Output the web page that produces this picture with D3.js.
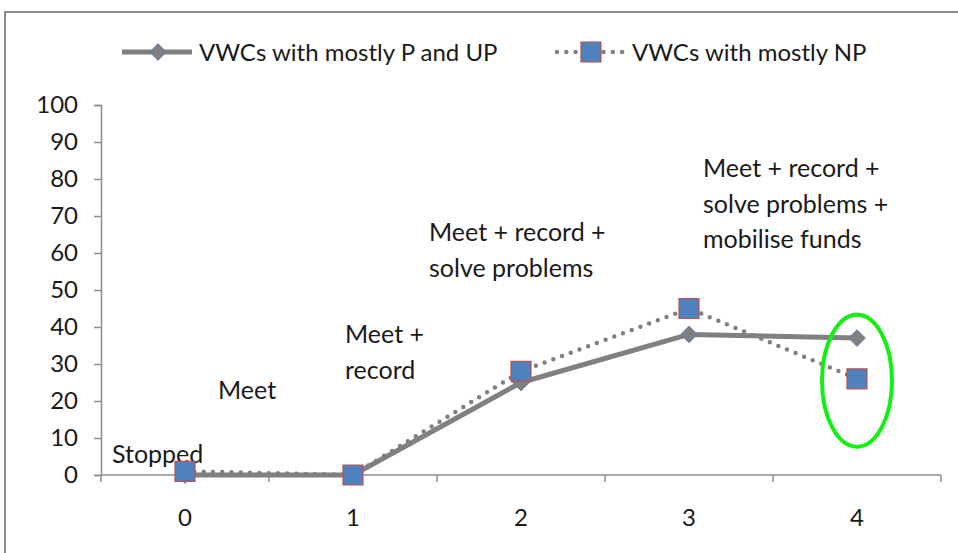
<!DOCTYPE html>
<html lang="en">
<head>
  <meta charset="UTF-8">
  <title>vwc stages</title>
  <script src="https://d3js.org/d3.v7.min.js"></script>
  <style>
    body {
      margin: 0;
      padding: 0;
      background: #fff;
    }
    #chart {
      width: 958px;
      height: 553px;
    }
    text {
      font-family: Lato, "Open Sans", sans-serif;
      fill: #1a1a1a;
    }
  </style>
</head>
<body>
  <div id="chart"></div>
<script>
  // data
  const categories = [0, 1, 2, 3, 4]
  const seriesNames = ['VWCs with mostly P and UP', 'VWCs with mostly NP']
  const valuesPUP = [0, 0, 25, 38, 37]
  const valuesNP = [1, 0, 28, 45, 26]
  const yTicks = [0, 10, 20, 30, 40, 50, 60, 70, 80, 90, 100]
  const notes = [
    ['Stopped'],
    ['Meet'],
    ['Meet +', 'record'],
    ['Meet + record +', 'solve problems'],
    ['Meet + record +', 'solve problems +', 'mobilise funds']
  ]

  const width = 958
  const height = 553
  const plot = { left: 101, right: 941, top: 105, bottom: 475 }

  const svg = d3.select('#chart')
    .append('svg')
    .attr('width', width)
    .attr('height', height)

  // outer frame (only top and left are in view)
  svg.append('path')
    .attr('d', `M5,${height} L5,12 L${width},12`)
    .attr('fill', 'none')
    .attr('stroke', '#8a8a8a')
    .attr('stroke-width', 2)

  const x = d3.scaleBand()
    .domain(categories)
    .range([plot.left, plot.right])
    .padding(0)
  const cx = d => x(d) + x.bandwidth() / 2

  const y = d3.scaleLinear()
    .domain([0, 100])
    .range([plot.bottom, plot.top])

  // y axis
  const yAxis = svg.append('g')
    .attr('transform', `translate(${plot.left},0)`)
    .call(d3.axisLeft(y).tickValues(yTicks).tickSize(7).tickPadding(16))
  yAxis.select('.domain').attr('stroke', '#8c8c8c').attr('stroke-width', 1.5)
  yAxis.selectAll('.tick line').attr('stroke', '#8c8c8c').attr('stroke-width', 1.5)
  yAxis.selectAll('.tick text')
    .attr('font-size', 24)
    .attr('font-family', 'Lato, sans-serif')
    .attr('fill', '#1a1a1a')

  // x axis, ticks between categories like Excel
  const xAxis = svg.append('g')
    .attr('transform', `translate(0,${plot.bottom})`)
  xAxis.append('line')
    .attr('x1', plot.left).attr('x2', plot.right)
    .attr('stroke', '#8c8c8c').attr('stroke-width', 1.5)
  const edges = categories.map(d => x(d)).concat([plot.right])
  xAxis.selectAll('line.tk')
    .data(edges)
    .join('line')
    .attr('class', 'tk')
    .attr('x1', d => d).attr('x2', d => d)
    .attr('y1', 0).attr('y2', 7)
    .attr('stroke', '#8c8c8c').attr('stroke-width', 1.5)
  xAxis.selectAll('text')
    .data(categories)
    .join('text')
    .attr('x', d => cx(d))
    .attr('y', 51)
    .attr('text-anchor', 'middle')
    .attr('font-size', 24)
    .text(d => d)

  // annotations
  const notePos = [
    { x: 112, y: 463 },
    { x: 218, y: 399 },
    { x: 345, y: 343 },
    { x: 429, y: 241 },
    { x: 703, y: 177 }
  ]
  notes.forEach((lines, i) => {
    const t = svg.append('text')
      .attr('x', notePos[i].x)
      .attr('y', notePos[i].y)
      .attr('font-size', 25)
    t.selectAll('tspan')
      .data(lines)
      .join('tspan')
      .attr('x', notePos[i].x)
      .attr('dy', (d, j) => j === 0 ? 0 : 35.5)
      .text(d => d)
  })

  const line = d3.line()
    .x((d, i) => cx(categories[i]))
    .y(d => y(d))

  // lines first, markers on top
  svg.append('path')
    .datum(valuesPUP)
    .attr('d', line)
    .attr('fill', 'none')
    .attr('stroke', '#808080')
    .attr('stroke-width', 5)
    .attr('stroke-linejoin', 'round')

  svg.append('path')
    .datum(valuesNP)
    .attr('d', line)
    .attr('fill', 'none')
    .attr('stroke', '#808080')
    .attr('stroke-width', 4.5)
    .attr('stroke-linecap', 'round')
    .attr('stroke-dasharray', '0 9.3')

  const diamond = d3.symbol().type(d3.symbolDiamond2).size(180)
  const square = d3.symbol().type(d3.symbolSquare).size(400)

  svg.append('g')
    .selectAll('path')
    .data(valuesPUP)
    .join('path')
    .attr('d', diamond)
    .attr('transform', (d, i) => `translate(${cx(categories[i])},${y(d)})`)
    .attr('fill', '#7f7f7f')
    .attr('stroke', '#4f81bd')
    .attr('stroke-width', 0.8)

  svg.append('g')
    .selectAll('path')
    .data(valuesNP)
    .join('path')
    .attr('d', square)
    .attr('transform', (d, i) => `translate(${cx(categories[i])},${y(d)})`)
    .attr('fill', '#4f81bd')
    .attr('stroke', '#c0504d')
    .attr('stroke-width', 1.2)

  // green ring around the last category
  svg.append('ellipse')
    .attr('cx', cx(4))
    .attr('cy', y(25.5))
    .attr('rx', 35)
    .attr('ry', 66)
    .attr('fill', 'none')
    .attr('stroke', '#12f012')
    .attr('stroke-width', 4)

  // legend
  const legend = svg.append('g')
  legend.append('line')
    .attr('x1', 122).attr('x2', 192).attr('y1', 52).attr('y2', 52)
    .attr('stroke', '#808080').attr('stroke-width', 5)
  legend.append('path')
    .attr('d', diamond)
    .attr('transform', 'translate(158,52)')
    .attr('fill', '#7f7f7f').attr('stroke', '#4f81bd').attr('stroke-width', 0.8)
  legend.append('text')
    .attr('x', 199).attr('y', 61)
    .attr('font-size', 24)
    .text(seriesNames[0])

  legend.append('line')
    .attr('x1', 557).attr('x2', 624).attr('y1', 52).attr('y2', 52)
    .attr('stroke', '#808080').attr('stroke-width', 4.5)
    .attr('stroke-linecap', 'round').attr('stroke-dasharray', '0 9.3')
  legend.append('path')
    .attr('d', square)
    .attr('transform', 'translate(591,52)')
    .attr('fill', '#4f81bd').attr('stroke', '#c0504d').attr('stroke-width', 1.2)
  legend.append('text')
    .attr('x', 632).attr('y', 61)
    .attr('font-size', 24)
    .text(seriesNames[1])
</script>
</body>
</html>
